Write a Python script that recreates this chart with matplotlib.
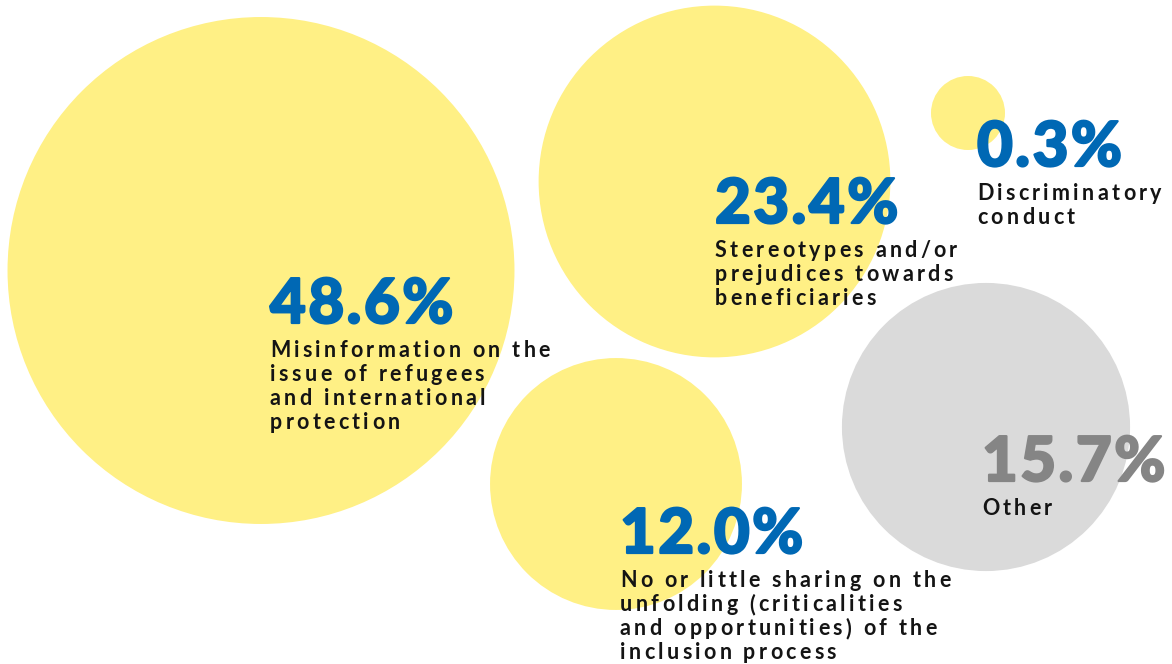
import numpy as np
import matplotlib
matplotlib.use("Agg")
import matplotlib.pyplot as plt
import matplotlib.patheffects as pe
from matplotlib.patches import Circle
from matplotlib.font_manager import FontProperties

# share of answers per cause (%)
causes = [
    "Misinformation on the\nissue of refugees\nand international\nprotection",
    "Stereotypes and/or\nprejudices towards\nbeneficiaries",
    "Discriminatory\nconduct",
    "No or little sharing on the\nunfolding (criticalities\nand opportunities) of the\ninclusion process",
    "Other",
]
shares = [48.6, 23.4, 0.3, 12.0, 15.7]
is_other = [False, False, False, False, True]

# bubble centres and text anchors, in pixels from the top-left corner
centres = [(261, 270.5), (714.5, 181.5), (968, 113), (616, 484), (986, 427)]
text_anchor = [(270, 323), (715, 223), (977, 166), (620, 553), (982, 481)]

YELLOW = "#FFF085"
GREY = "#DADADA"
BLUE = "#0068B4"
GREY_TEXT = "#858585"
INK = "#141414"

W, H = 1172, 664
fig = plt.figure(figsize=(W / 100, H / 100), dpi=100)
ax = fig.add_axes([0, 0, 1, 1])
ax.set_xlim(0, W)
ax.set_ylim(H, 0)
ax.set_aspect("equal")
ax.axis("off")

# bubble area follows the share, with a floor so tiny shares stay visible
px_per_sqrt = 36.36
min_radius = 37

for (cx, cy), v, other in zip(centres, shares, is_other):
    r = max(px_per_sqrt * np.sqrt(v), min_radius)
    ax.add_patch(Circle((cx, cy), r, facecolor=GREY if other else YELLOW,
                        edgecolor="none", zorder=1))

renderer = fig.canvas.get_renderer()


def ink_width(s, prop):
    if not s.strip():
        return 0.0
    w, _, _ = renderer.get_text_width_height_descent(s, prop, ismath=False)
    return w


def tracked_text(x, y, s, prop, color, tracking, stroke=0):
    """draw one line char by char so letter spacing can be widened"""
    effects = [pe.withStroke(linewidth=stroke, foreground=color)] if stroke else None
    for i, ch in enumerate(s):
        if ch == " ":
            continue
        left = ink_width(s[:i + 1], prop) - ink_width(ch, prop)
        ax.text(x + left + i * tracking, y, ch, fontproperties=prop,
                color=color, ha="left", va="baseline", zorder=3,
                path_effects=effects)


big = FontProperties(family="Lato", weight=900, size=44.5)
small = FontProperties(family="Lato", weight=700, size=15.5)

for (tx, ty), v, lab, other in zip(text_anchor, shares, causes, is_other):
    tracked_text(tx, ty, f"{v:.1f}%", big, GREY_TEXT if other else BLUE, 2.5,
                 stroke=1.6)
    for k, line in enumerate(lab.split("\n")):
        tracked_text(tx, ty + 34 + 24 * k, line, small, INK, 3.3)

fig.savefig("out.png", dpi=100, facecolor="white")
